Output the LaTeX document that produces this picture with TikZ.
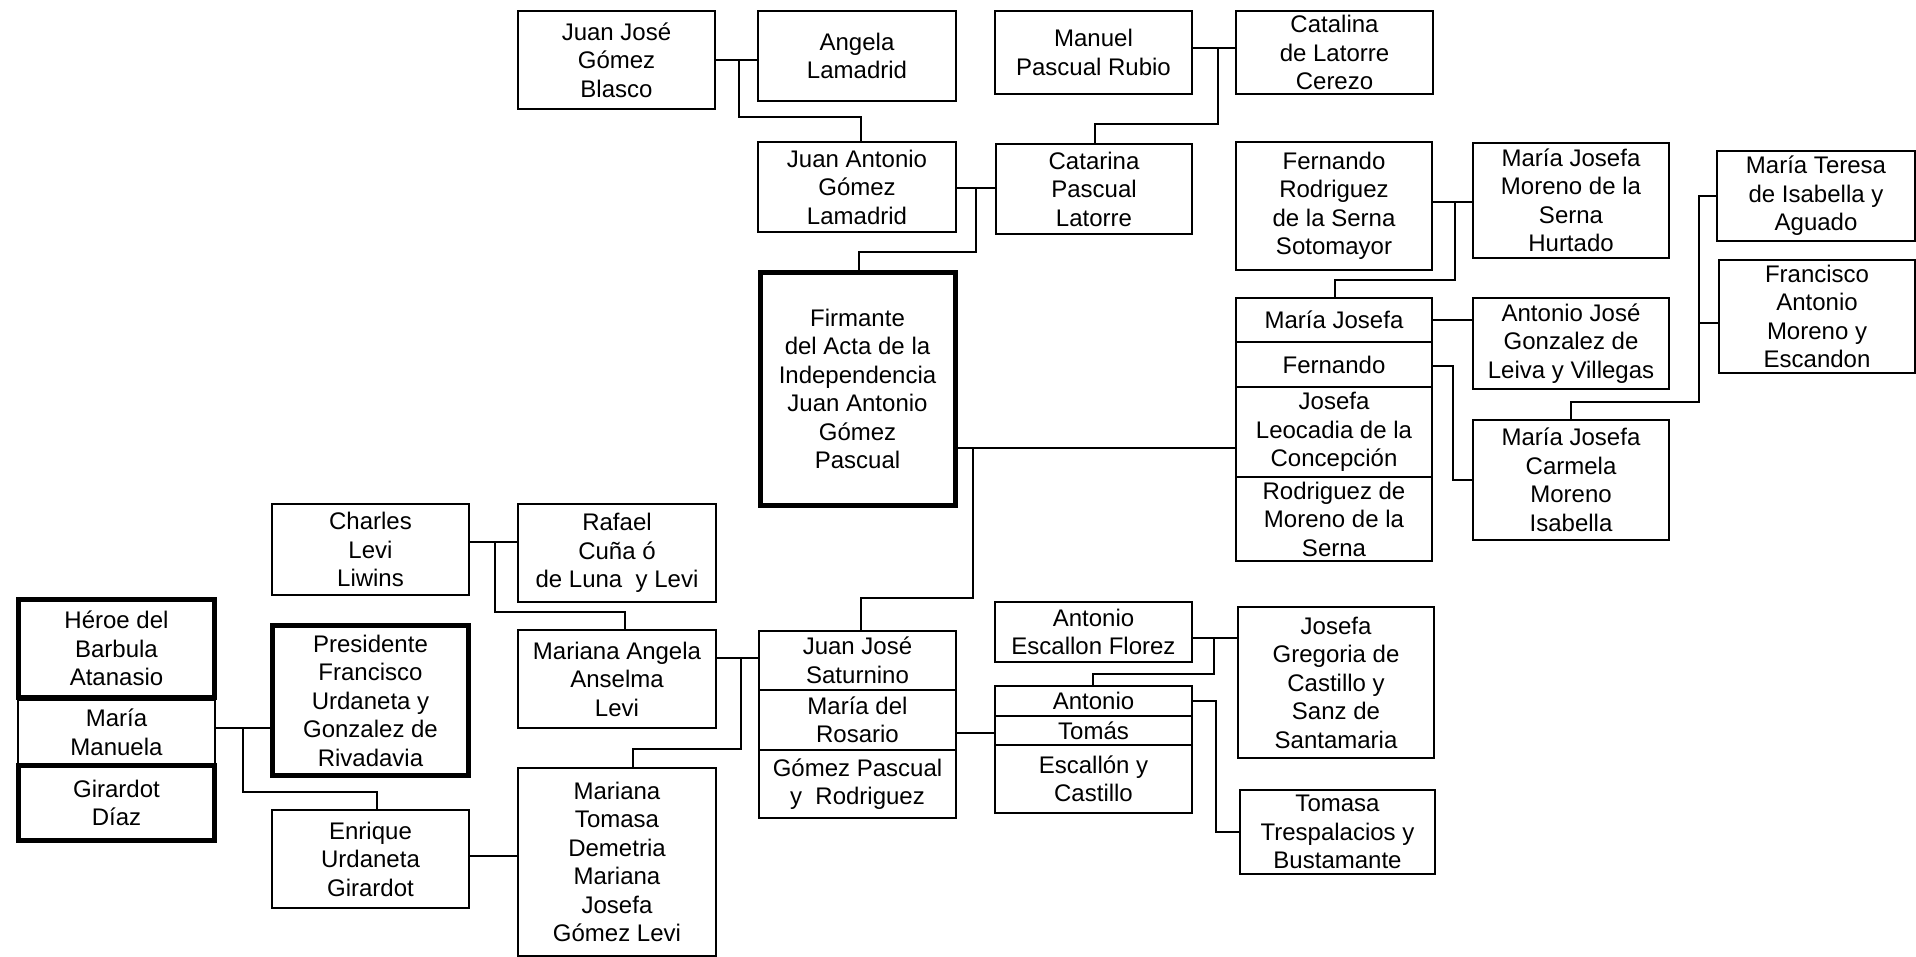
\documentclass[tikz,border=0pt]{standalone}
\usepackage{fontspec}
\setmainfont{Liberation Sans}
\tikzset{
  pbx/.style={draw, line width=1pt, inner sep=0pt, outer sep=0pt, align=center, fill=white,
    font=\fontsize{12}{14.25}\selectfont},
  heavy/.style={line width=2.5pt},
  conn/.style={line width=1pt},
}
\newcommand\famBox[7][]{\node[pbx,#1,minimum width={(#5-#3)*0.5pt},minimum height={(#6-#4)*0.5pt}] (#2) at ({(#3+#5)/2},{(#4+#6)/2}) {#7};}
\begin{document}
\begin{tikzpicture}[x=0.5pt,y=-0.5pt]
\useasboundingbox (0,0) rectangle (1916,957);
% top generations
\famBox{jjgb}{518}{11}{715}{109}{Juan José\\Gómez\\Blasco}
\famBox{angela}{758}{11}{956}{101}{Angela\\Lamadrid}
\famBox{manuel}{995}{11}{1192}{94}{Manuel\\Pascual Rubio}
\famBox{catalina}{1236}{11}{1433}{94}{Catalina\\de Latorre\\Cerezo}
\famBox{jagl}{758}{142}{956}{232}{Juan Antonio\\Gómez\\Lamadrid}
\famBox{catarina}{996}{144}{1192}{234}{Catarina\\Pascual\\Latorre}
\famBox{fernrod}{1236}{142}{1432}{270}{Fernando\\Rodriguez\\de la Serna\\Sotomayor}
\famBox{mjmoreno}{1473}{143}{1669}{258}{María Josefa\\Moreno de la\\Serna\\Hurtado}
\famBox{mteresa}{1717}{151}{1915}{241}{María Teresa\\de Isabella y\\Aguado}
\famBox{fam}{1719}{260}{1915}{373}{Francisco\\Antonio\\Moreno y\\Escandon}
\famBox[heavy]{firmante}{760}{273}{955}{505}{Firmante\\del Acta de la\\Independencia\\Juan Antonio\\Gómez\\Pascual}
% right stacked block
\famBox{mj}{1236}{298}{1432}{342}{María Josefa}
\famBox{fern}{1236}{342}{1432}{387}{Fernando}
\famBox{josefal}{1236}{387}{1432}{477}{Josefa\\Leocadia de la\\Concepción}
\famBox{rodmor}{1236}{477}{1432}{561}{Rodriguez de\\Moreno de la\\Serna}
\famBox{ajg}{1473}{298}{1669}{389}{Antonio José\\Gonzalez de\\Leiva y Villegas}
\famBox{mjc}{1473}{420}{1669}{540}{María Josefa\\Carmela\\Moreno\\Isabella}
% lower left
\famBox{charles}{272}{504}{469}{595}{Charles\\Levi\\Liwins}
\famBox{rafael}{518}{504}{716}{602}{Rafael\\Cuña ó\\de Luna\ \ y Levi}
\famBox{mangela}{518}{630}{716}{728}{Mariana Angela\\Anselma\\Levi}
\famBox{jjs}{759}{631}{956}{690}{Juan José\\Saturnino}
\famBox{mdr}{759}{690}{956}{750}{María del\\Rosario}
\famBox{gpr}{759}{750}{956}{818}{Gómez Pascual\\y\ \ Rodriguez}
\famBox{aef}{995}{602}{1192}{662}{Antonio\\Escallon Florez}
\famBox{jgc}{1238}{607}{1434}{758}{Josefa\\Gregoria de\\Castillo y\\Sanz de\\Santamaria}
\famBox{antonio}{995}{686}{1192}{716}{Antonio}
\famBox{tomas}{995}{716}{1192}{745}{Tomás}
\famBox{escastillo}{995}{745}{1192}{813}{Escallón y\\Castillo}
\famBox{tomasa}{1240}{790}{1435}{874}{Tomasa\\Trespalacios y\\Bustamante}
\famBox{mm}{18}{700}{215}{765}{María\\Manuela}
\famBox[heavy]{heroe}{18.5}{599.5}{214.5}{697.5}{Héroe del\\Barbula\\Atanasio}
\famBox[heavy]{girardot}{18.5}{765.5}{214.5}{840.5}{Girardot\\Díaz}
\famBox[heavy]{presidente}{272.5}{625.5}{468.5}{775.5}{Presidente\\Francisco\\Urdaneta y\\Gonzalez de\\Rivadavia}
\famBox{enrique}{272}{810}{469}{908}{Enrique\\Urdaneta\\Girardot}
\famBox{mtomasa}{518}{768}{716}{956}{Mariana\\Tomasa\\Demetria\\Mariana\\Josefa\\Gómez Levi}
% connectors
\begin{scope}[conn]
\draw (jjgb.east) -- (jjgb.east -| angela.west);
\draw (739,60) |- (861,117) -- (861,117 |- jagl.north);
\draw (manuel.east |- 0,48) -- (catalina.west |- 0,48);
\draw (1218,48) |- (1095,124) -- (1095,124 |- catarina.north);
\draw (jagl.east |- 0,188) -- (catarina.west |- 0,188);
\draw (976,188) |- (859,252) -- (859,252 |- firmante.north);
\draw (fernrod.east |- 0,202) -- (mjmoreno.west |- 0,202);
\draw (1455,202) |- (1335,280) -- (1335,280 |- mj.north);
\draw (mj.east) -- (mj.east -| ajg.west);
\draw (fern.east |- 0,366) -| (1453,480) -- (mjc.west);
\draw (mteresa.west) -| (1699,402) -| (mjc.north);
\draw (1699,323) -- (1699,323 -| fam.west);
\draw (firmante.east |- 0,448) -- (josefal.west |- 0,448);
\draw (973,448) |- (861,598) -- (861,598 |- jjs.north);
\draw (charles.east |- 0,542) -- (rafael.west |- 0,542);
\draw (495,542) |- (625,612) -- (625,612 |- mangela.north);
\draw (mangela.east |- 0,658) -- (jjs.west |- 0,658);
\draw (741,658) |- (633,749) -- (633,749 |- mtomasa.north);
\draw (mm.east |- 0,728) -- (presidente.west |- 0,728);
\draw (243,728) |- (377,792) -- (377,792 |- enrique.north);
\draw (enrique.east |- 0,856) -- (mtomasa.west |- 0,856);
\draw (mdr.east |- 0,733) -- (tomas.west |- 0,733);
\draw (aef.east |- 0,638) -- (jgc.west |- 0,638);
\draw (1214,638) |- (1093,674) -- (1093,674 |- antonio.north);
\draw (antonio.east) -| (1216,832) -- (tomasa.west);
\end{scope}
\end{tikzpicture}
\end{document}
